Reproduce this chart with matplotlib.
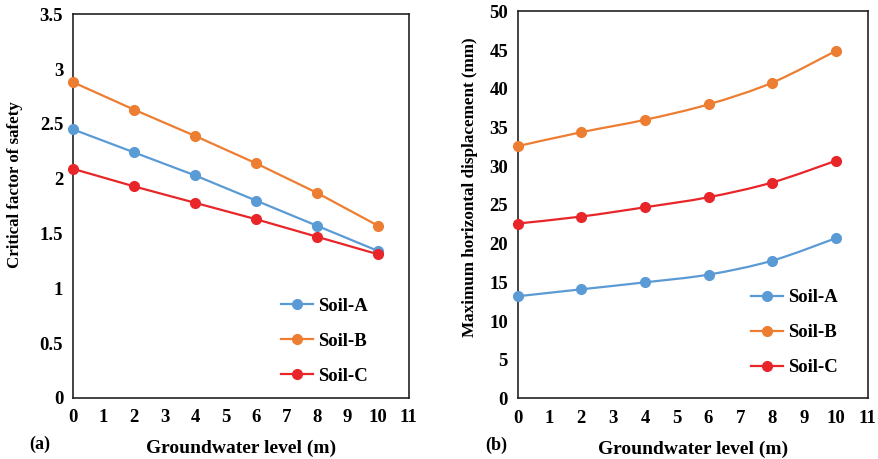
import matplotlib.pyplot as plt
from matplotlib.path import Path
from matplotlib.patches import PathPatch
from matplotlib.lines import Line2D

plt.rcParams['font.family'] = ['Liberation Serif', 'DejaVu Serif']
plt.rcParams['font.weight'] = 'bold'

# groundwater level (m)
gw_level = [0, 2, 4, 6, 8, 10]

# critical factor of safety
fos_soil_a = [2.45, 2.24, 2.03, 1.80, 1.57, 1.34]
fos_soil_b = [2.88, 2.63, 2.39, 2.14, 1.87, 1.57]
fos_soil_c = [2.09, 1.93, 1.78, 1.63, 1.47, 1.31]

# maximum horizontal displacement (mm)
disp_soil_a = [13.2, 14.1, 15.0, 16.0, 17.8, 20.7]
disp_soil_b = [32.6, 34.4, 36.0, 38.0, 40.8, 44.9]
disp_soil_c = [22.6, 23.5, 24.7, 26.0, 27.9, 30.7]

soil_names = ['Soil-A', 'Soil-B', 'Soil-C']
colors = ['#5B9BD5', '#ED7D31', '#E8262A']


def smooth_path(x, y):
    # Catmull-Rom style bezier through the points, like Excel smoothed lines
    verts = [(x[0], y[0])]
    codes = [Path.MOVETO]
    n = len(x)
    for i in range(n - 1):
        x0, y0 = (x[i - 1], y[i - 1]) if i > 0 else (x[i], y[i])
        x3, y3 = (x[i + 2], y[i + 2]) if i + 2 < n else (x[i + 1], y[i + 1])
        c1 = (x[i] + (x[i + 1] - x0) / 6, y[i] + (y[i + 1] - y0) / 6)
        c2 = (x[i + 1] - (x3 - x[i]) / 6, y[i + 1] - (y3 - y[i]) / 6)
        verts += [c1, c2, (x[i + 1], y[i + 1])]
        codes += [Path.CURVE4] * 3
    return Path(verts, codes)


def style_axes(ax, ylim, yticks, ylabel, tag, tag_x, ylabel_size, ylabel_xy):
    ax.set_xlim(0, 11)
    ax.set_ylim(*ylim)
    ax.set_xticks(range(0, 12))
    ax.set_yticks(yticks)
    ax.set_yticklabels([f'{t:g}' for t in yticks])
    ax.tick_params(length=0, labelsize=13.5)
    ax.tick_params(axis='x', pad=8)
    ax.tick_params(axis='y', pad=7)
    for sp in ax.spines.values():
        sp.set_linewidth(1.2)
        sp.set_color('#222222')
    ax.set_ylabel(ylabel, fontsize=ylabel_size, fontweight='bold')
    ax.yaxis.set_label_coords(*ylabel_xy)
    ax.set_xlabel('Groundwater level (m)', fontsize=14, fontweight='bold', labelpad=10)
    ax.text(tag_x, -0.12, tag, transform=ax.transAxes, fontsize=13,
            fontweight='bold', ha='left', va='center')


fig = plt.figure(figsize=(8.79, 4.59), dpi=100)
ax1 = fig.add_axes([0.083, 0.133, 0.382, 0.836])
ax2 = fig.add_axes([0.589, 0.132, 0.398, 0.843])

# (a) factor of safety, straight lines
for vals, name, c in zip([fos_soil_a, fos_soil_b, fos_soil_c], soil_names, colors):
    ax1.plot(gw_level, vals, color=c, lw=1.6, marker='o', markersize=7,
             label=name, clip_on=False, zorder=3)

style_axes(ax1, (0, 3.5), [0, 0.5, 1, 1.5, 2, 2.5, 3, 3.5],
           'Critical factor of safety', '(a)', -0.13, 12.2, (-0.149, 0.557))
ax1.legend(loc='lower right', bbox_to_anchor=(0.928, -0.01), frameon=False,
           fontsize=13.5, labelspacing=0.95, handlelength=1.7, handletextpad=0.25)

# (b) horizontal displacement, smoothed lines
handles = []
for vals, name, c in zip([disp_soil_a, disp_soil_b, disp_soil_c], soil_names, colors):
    ax2.add_patch(PathPatch(smooth_path(gw_level, vals), fill=False,
                            edgecolor=c, lw=1.6, zorder=2))
    ax2.plot(gw_level, vals, color=c, lw=0, marker='o', markersize=7,
             clip_on=False, zorder=3)
    handles.append(Line2D([], [], color=c, lw=1.6, marker='o', markersize=7, label=name))

style_axes(ax2, (0, 50), list(range(0, 51, 5)),
           'Maximum horizontal displacement (mm)', '(b)', -0.093, 12.3, (-0.114, 0.545))
ax2.legend(handles=handles, loc='lower right', bbox_to_anchor=(0.962, 0.014),
           frameon=False, fontsize=13.5, labelspacing=0.95, handlelength=1.7,
           handletextpad=0.25)

fig.savefig('out.png', dpi=100)
